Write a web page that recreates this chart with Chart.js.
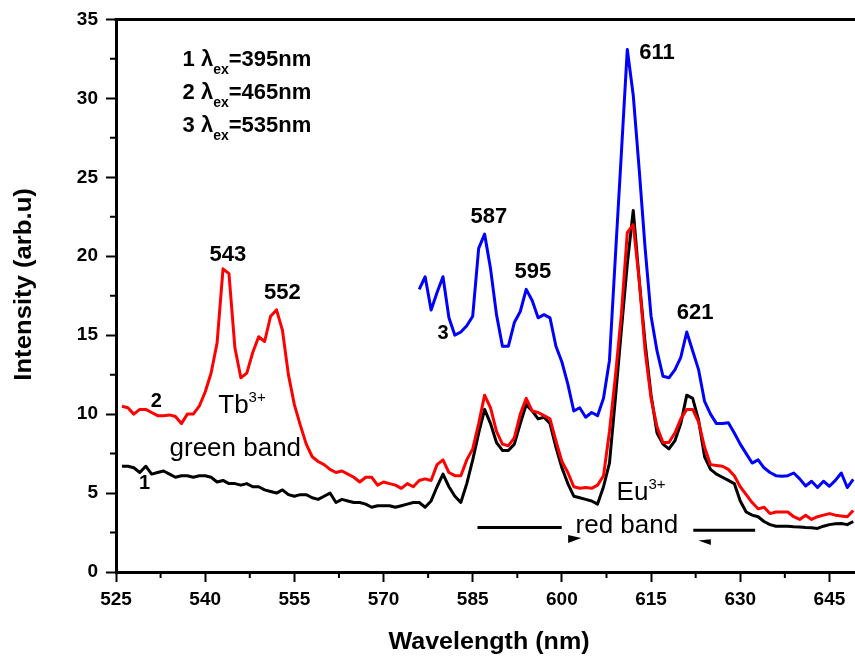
<!DOCTYPE html>
<html>
<head>
<meta charset="utf-8">
<script src="https://cdn.jsdelivr.net/npm/chart.js@4.4.0/dist/chart.umd.min.js"></script>
<style>
  html, body { margin: 0; padding: 0; background: #fff; }
</style>
</head>
<body>
<canvas id="spectra" width="855" height="658"></canvas>
<script>
// wavelength grid (nm) shared by curves 1 and 2; curve 3 starts at 576 nm
const wavelengths = [
  526, 527, 528, 529, 530, 531, 532, 533, 534, 535,
  536, 537, 538, 539, 540, 541, 542, 543, 544, 545,
  546, 547, 548, 549, 550, 551, 552, 553, 554, 555,
  556, 557, 558, 559, 560, 561, 562, 563, 564, 565,
  566, 567, 568, 569, 570, 571, 572, 573, 574, 575,
  576, 577, 578, 579, 580, 581, 582, 583, 584, 585,
  586, 587, 588, 589, 590, 591, 592, 593, 594, 595,
  596, 597, 598, 599, 600, 601, 602, 603, 604, 605,
  606, 607, 608, 609, 610, 611, 612, 613, 614, 615,
  616, 617, 618, 619, 620, 621, 622, 623, 624, 625,
  626, 627, 628, 629, 630, 631, 632, 633, 634, 635,
  636, 637, 638, 639, 640, 641, 642, 643, 644, 645,
  646, 647, 648, 649
];

// curve 1, lambda_ex = 395 nm (black)
const curve1 = [
  6.7, 6.7, 6.6, 6.3, 6.7, 6.2, 6.3, 6.4, 6.2, 6.0,
  6.1, 6.1, 6.0, 6.1, 6.1, 6.0, 5.7, 5.8, 5.6, 5.6,
  5.5, 5.6, 5.4, 5.4, 5.2, 5.1, 5.0, 5.2, 4.9, 4.8,
  4.9, 4.9, 4.7, 4.6, 4.8, 5.0, 4.4, 4.6, 4.5, 4.4,
  4.4, 4.3, 4.1, 4.2, 4.2, 4.2, 4.1, 4.2, 4.3, 4.4,
  4.4, 4.1, 4.5, 5.4, 6.2, 5.4, 4.8, 4.4, 5.6, 7.1,
  8.8, 10.3, 9.4, 8.2, 7.7, 7.7, 8.1, 9.4, 10.6, 10.2,
  9.7, 9.8, 9.4, 7.9, 6.6, 5.6, 4.8, 4.7, 4.6, 4.5,
  4.3, 5.4, 6.9, 11.0, 15.3, 19.5, 22.9, 18.5, 14.5, 11.2,
  8.8, 8.1, 7.8, 8.3, 9.4, 11.2, 11.0, 9.6, 7.3, 6.5,
  6.2, 6.0, 5.8, 5.6, 4.5, 3.8, 3.6, 3.5, 3.2, 3.0,
  2.9, 2.9, 2.9, 2.86, 2.85, 2.82, 2.8, 2.76, 2.9, 3.0,
  3.05, 3.07, 3.0, 3.2
];

// curve 2, lambda_ex = 465 nm (red)
const curve2 = [
  10.5, 10.4, 10.0, 10.3, 10.3, 10.1, 9.9, 9.9, 9.95, 9.85,
  9.4, 10.0, 10.0, 10.5, 11.4, 12.6, 14.5, 19.2, 18.9, 14.2,
  12.3, 12.6, 13.9, 14.9, 14.6, 16.2, 16.6, 15.3, 12.5, 10.6,
  9.3, 8.1, 7.3, 7.0, 6.8, 6.5, 6.3, 6.4, 6.2, 6.0,
  5.7, 6.0, 6.0, 5.5, 5.7, 5.6, 5.5, 5.3, 5.6, 5.4,
  5.8, 5.9, 5.8, 6.8, 7.1, 6.3, 6.1, 6.1, 7.1, 7.8,
  9.4, 11.2, 10.4, 8.9, 8.1, 8.0, 8.5, 10.0, 11.0, 10.2,
  10.1, 9.9, 9.7, 8.3, 7.0, 6.3, 5.4, 5.3, 5.35, 5.3,
  5.5, 6.1, 8.9, 12.4, 16.3, 21.5, 22.0, 18.5, 14.0, 11.0,
  9.2, 8.2, 8.2, 8.8, 9.7, 10.3, 10.3, 9.5, 7.9, 6.8,
  6.75, 6.7, 6.5, 6.1, 5.4, 4.9, 4.4, 4.0, 4.1, 3.7,
  3.8, 3.8, 3.8, 3.5, 3.33, 3.6, 3.33, 3.5, 3.6, 3.7,
  3.6, 3.55, 3.5, 3.9
];

// curve 3, lambda_ex = 535 nm (blue), 576..649 nm
const curve3 = [
  17.9, 18.7, 16.6, 17.7, 18.7, 16.1, 15.0, 15.2, 15.6, 16.2,
  20.5, 21.4, 19.2, 16.3, 14.3, 14.3, 15.8, 16.5, 17.9, 17.2,
  16.1, 16.3, 16.1, 14.3, 13.3, 11.9, 10.2, 10.4, 9.8, 10.1,
  9.9, 11.0, 13.4, 20.0, 26.5, 33.1, 30.2, 25.5, 20.5, 16.2,
  14.0, 12.4, 12.3, 12.8, 13.6, 15.2, 14.0, 12.8, 10.8, 10.0,
  9.4, 9.4, 9.45, 8.8, 8.1, 7.5, 6.9, 7.1, 6.6, 6.3,
  6.1, 6.06, 6.1, 6.27, 5.9, 5.45, 5.75, 5.35, 5.75, 5.43,
  5.8, 6.27, 5.35, 5.87
];
const curve3Start = 576;

const excitation = ['395', '465', '535'];
const peakLabels = [
  { text: '543', wl: 543.8, val: 20.1 },
  { text: '552', wl: 553.0, val: 17.7 },
  { text: '587', wl: 587.7, val: 22.5 },
  { text: '595', wl: 595.1, val: 19.0 },
  { text: '611', wl: 616.0, val: 32.9 },
  { text: '621', wl: 622.4, val: 16.4 }
];
const curveTags = [
  { text: '1', wl: 529.8, val: 5.6 },
  { text: '2', wl: 531.8, val: 10.8 },
  { text: '3', wl: 580.0, val: 15.1 }
];
const xTitle = 'Wavelength (nm)';
const yTitle = 'Intensity (arb.u)';

const FONT = '"Liberation Sans", Arial, sans-serif';

function pairs(xs, ys) {
  return ys.map((v, i) => ({ x: xs[i], y: v }));
}

const blueX = wavelengths.slice(wavelengths.indexOf(curve3Start));

// text with a raised or lowered small part, e.g. Tb^3+ or lambda_ex
function drawParts(ctx, x, y, parts) {
  let cx = x;
  parts.forEach(p => {
    ctx.font = p.font;
    ctx.fillText(p.t, cx, y + (p.dy || 0));
    cx += ctx.measureText(p.t).width;
  });
}

// centred title, slightly widened like the original's font
function drawTitle(ctx, text, x, y, angle, stretch) {
  ctx.save();
  ctx.translate(x, y);
  ctx.rotate(angle);
  ctx.scale(stretch, 1);
  ctx.font = 'bold 24px ' + FONT;
  ctx.textAlign = 'center';
  ctx.textBaseline = 'middle';
  ctx.fillText(text, 0, 0);
  ctx.restore();
}

const decorations = {
  id: 'decorations',
  afterDraw(chart) {
    const ctx = chart.ctx;
    const xs = chart.scales.x, ys = chart.scales.y;
    const area = chart.chartArea;
    const px = v => xs.getPixelForValue(v);
    const py = v => ys.getPixelForValue(v);

    ctx.save();
    ctx.strokeStyle = '#000';
    ctx.fillStyle = '#000';

    // top frame line
    ctx.lineWidth = 3;
    ctx.beginPath();
    ctx.moveTo(area.left - 1.5, area.top);
    ctx.lineTo(area.right, area.top);
    ctx.stroke();

    // minor ticks halfway between the major ones
    ctx.lineWidth = 2;
    const xt = xs.ticks.map(t => t.value);
    const xStep = xt[1] - xt[0];
    ctx.beginPath();
    xt.forEach(v => {
      const m = v + xStep / 2;
      if (m < xs.max) {
        ctx.moveTo(px(m), area.bottom);
        ctx.lineTo(px(m), area.bottom + 6);
      }
    });
    const yt = ys.ticks.map(t => t.value);
    const yStep = yt[1] - yt[0];
    yt.forEach(v => {
      const m = v + yStep / 2;
      if (m < ys.max) {
        ctx.moveTo(area.left, py(m));
        ctx.lineTo(area.left - 6, py(m));
      }
    });
    ctx.stroke();

    // axis titles
    drawTitle(ctx, xTitle, area.left + 373, area.bottom + 70, 0, 1.045);
    drawTitle(ctx, yTitle, 24, area.top + 265, -Math.PI / 2, 1.07);

    // excitation list
    ctx.textAlign = 'left';
    ctx.textBaseline = 'alphabetic';
    excitation.forEach((nm, i) => {
      drawParts(ctx, px(536.2), py(32.07 - i * 2.1), [
        { t: (i + 1) + ' \u03bb', font: 'bold 22px ' + FONT },
        { t: 'ex', font: 'bold 14px ' + FONT, dy: 8.5 },
        { t: '=' + nm + 'nm', font: 'bold 22px ' + FONT }
      ]);
    });

    // peak and curve labels
    ctx.textAlign = 'center';
    ctx.textBaseline = 'middle';
    ctx.font = 'bold 22px ' + FONT;
    peakLabels.forEach(p => ctx.fillText(p.text, px(p.wl), py(p.val)));
    ctx.font = 'bold 20px ' + FONT;
    curveTags.forEach(p => ctx.fillText(p.text, px(p.wl), py(p.val)));

    // band annotations
    ctx.textAlign = 'left';
    ctx.textBaseline = 'alphabetic';
    drawParts(ctx, px(542.2), py(10.04), [
      { t: 'Tb', font: '26px ' + FONT },
      { t: '3+', font: '15px ' + FONT, dy: -11 }
    ]);
    ctx.font = '26px ' + FONT;
    ctx.fillText('green band', px(534.0), py(7.33));
    drawParts(ctx, px(609.2), py(4.55), [
      { t: 'Eu', font: '26px ' + FONT },
      { t: '3+', font: '15px ' + FONT, dy: -11 }
    ]);
    ctx.font = '26px ' + FONT;
    ctx.fillText('red band', px(602.3), py(2.44));

    // arrows under the red band
    ctx.lineWidth = 3;
    ctx.beginPath();
    ctx.moveTo(px(585.8), py(2.82));
    ctx.lineTo(px(599.97), py(2.82));
    ctx.moveTo(px(622.1), py(2.65));
    ctx.lineTo(px(632.5), py(2.65));
    ctx.stroke();
    ctx.beginPath();
    ctx.moveTo(px(601.05), py(2.34));
    ctx.lineTo(px(603.25), py(2.15));
    ctx.lineTo(px(601.05), py(1.83));
    ctx.closePath();
    ctx.moveTo(px(622.96), py(2.0));
    ctx.lineTo(px(625.05), py(2.07));
    ctx.lineTo(px(625.05), py(1.71));
    ctx.closePath();
    ctx.fill();

    ctx.restore();
  }
};

new Chart(document.getElementById('spectra'), {
  type: 'line',
  data: {
    datasets: [
      {
        label: '3',
        data: pairs(blueX, curve3),
        borderColor: '#0000ff',
        borderWidth: 3,
        order: 0
      },
      {
        label: '2',
        data: pairs(wavelengths, curve2),
        borderColor: '#ff0000',
        borderWidth: 3,
        order: 1
      },
      {
        label: '1',
        data: pairs(wavelengths, curve1),
        borderColor: '#000000',
        borderWidth: 3,
        order: 2
      }
    ]
  },
  options: {
    responsive: false,
    animation: false,
    devicePixelRatio: 1,
    layout: { padding: { top: 18, right: 0, bottom: 0, left: 0 } },
    elements: {
      point: { radius: 0 },
      line: { tension: 0, borderJoinStyle: 'round', fill: false }
    },
    plugins: {
      legend: { display: false },
      tooltip: { enabled: false }
    },
    scales: {
      x: {
        type: 'linear',
        min: 525,
        max: 649.3,
        afterFit(scale) { scale.height = 86; },
        border: { color: '#000', width: 3 },
        grid: { drawOnChartArea: false, tickLength: 10, tickWidth: 2, tickColor: '#000' },
        ticks: {
          stepSize: 15,
          includeBounds: false,
          padding: 6,
          color: '#000',
          font: { family: FONT, size: 19, weight: 'bold' }
        }
      },
      y: {
        min: 0,
        max: 35,
        afterFit(scale) { scale.width = 116; },
        border: { color: '#000', width: 3 },
        grid: { drawOnChartArea: false, tickLength: 10, tickWidth: 2, tickColor: '#000' },
        ticks: {
          stepSize: 5,
          padding: 8,
          color: '#000',
          font: { family: FONT, size: 19, weight: 'bold' }
        }
      }
    }
  },
  plugins: [decorations]
});
</script>
</body>
</html>
